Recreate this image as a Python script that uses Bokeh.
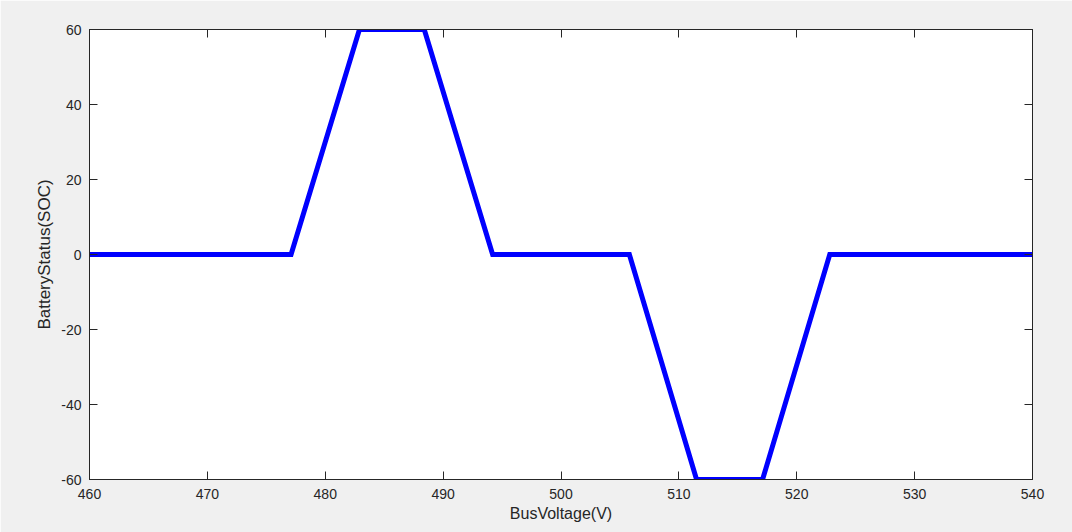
from bokeh.plotting import figure
from bokeh.models import LinearAxis, Range1d, FixedTicker
from bokeh.embed import file_html
from bokeh.resources import INLINE

bus_voltage = [460, 477.1, 482.9, 488.4, 494.2, 505.8, 511.5, 517.1, 522.8, 540]
battery_status = [0, 0, 60, 60, 0, 0, -60, -60, 0, 0]
x_ticks = [460, 470, 480, 490, 500, 510, 520, 530, 540]
y_ticks = [-60, -40, -20, 0, 20, 40, 60]

FONT = "Liberation Sans"
TXT = "#262626"

p = figure(width=1072, height=532, output_backend="svg", toolbar_location=None,
           x_range=Range1d(460, 540), y_range=Range1d(-60, 60),
           min_border_left=89, min_border_right=40, min_border_top=29, min_border_bottom=53)
p.background_fill_color = "white"
p.border_fill_color = "#f0f0f0"
p.outline_line_color = "#262626"
p.outline_line_width = 1
p.grid.visible = False

p.line(bus_voltage, battery_status, line_color="#0000ff", line_width=5, line_join="miter")

for ax in (p.xaxis[0], p.yaxis[0]):
    ax.major_tick_in = 8
    ax.major_tick_out = 0
    ax.minor_tick_line_color = None
    ax.axis_line_color = "#262626"
    ax.major_tick_line_color = "#262626"
    ax.major_label_text_font = FONT
    ax.major_label_text_font_size = "14px"
    ax.major_label_text_color = TXT
    ax.axis_label_text_font = FONT
    ax.axis_label_text_font_style = "normal"
    ax.axis_label_text_color = TXT

p.xaxis[0].ticker = FixedTicker(ticks=x_ticks)
p.yaxis[0].ticker = FixedTicker(ticks=y_ticks)
p.yaxis[0].major_label_overrides = {t: str(t) for t in y_ticks}
p.xaxis[0].axis_label = "BusVoltage(V)"
p.yaxis[0].axis_label = "BatteryStatus(SOC)"
p.xaxis[0].axis_label_text_font_size = "16px"
p.yaxis[0].axis_label_text_font_size = "17px"
p.xaxis[0].major_label_standoff = 9
p.yaxis[0].major_label_standoff = 8
p.xaxis[0].axis_label_standoff = 3
p.yaxis[0].axis_label_standoff = 4

top = LinearAxis(ticker=FixedTicker(ticks=x_ticks), major_tick_in=8, major_tick_out=0,
                 minor_tick_line_color=None, major_label_text_color=None,
                 major_label_standoff=0, axis_line_color="#262626", major_tick_line_color="#262626")
right = LinearAxis(ticker=FixedTicker(ticks=y_ticks), major_tick_in=8, major_tick_out=0,
                   minor_tick_line_color=None, major_label_text_color=None,
                   major_label_standoff=0, axis_line_color="#262626", major_tick_line_color="#262626")
p.add_layout(top, "above")
p.add_layout(right, "right")

open("out.html", "w").write(file_html(p, INLINE))
